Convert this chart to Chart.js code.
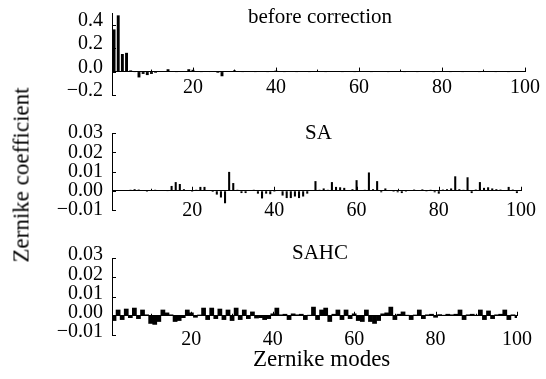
<!DOCTYPE html>
<html>
<head>
<meta charset="utf-8">
<script src="https://cdn.jsdelivr.net/npm/chart.js@4.4.1/dist/chart.umd.min.js"></script>
<style>
  body { margin: 0; background: #fff; width: 546px; height: 379px; position: relative; overflow: hidden;
         font-family: "Liberation Serif", "DejaVu Serif", serif; color: #000; }
  canvas { position: absolute; left: 0; }
  .lbl { position: absolute; white-space: nowrap; line-height: 1; font-size: 21px; }
  .ytitle { position: absolute; white-space: nowrap; line-height: 1; font-size: 23px;
            left: 21px; top: 175px; transform: translate(-50%, -50%) rotate(-90deg); }
</style>
</head>
<body>
<canvas id="pBefore" width="546" height="112" style="top:0"></canvas>
<canvas id="pSA" width="546" height="115" style="top:115px"></canvas>
<canvas id="pSAHC" width="546" height="120" style="top:240px"></canvas>

<div class="lbl" style="left:248px;top:6px">before correction</div>
<div class="lbl" style="left:305px;top:122px">SA</div>
<div class="lbl" style="left:292px;top:242px">SAHC</div>
<div class="lbl" style="left:253px;top:347px;font-size:23px">Zernike modes</div>
<div class="ytitle">Zernike coefficient</div>

<script>
// ── Data (Zernike modes 1..100) ───────────────────────────────
const modes = Array.from({ length: 100 }, (_, i) => i + 1);

const beforeValues = [
  0.36, 0.48, 0.15, 0.16, 0.01, -0.005, -0.05, -0.02, -0.03, -0.02,
  -0.01, 0.005, 0.004, 0.02, 0.005, -0.005, 0.003, 0.005, 0.02, 0.015,
  0.005, -0.005, 0.003, -0.004, 0.003, -0.01, -0.04, 0.003, 0.003, 0.01,
  0.002, -0.003, 0.002, 0.003, -0.002, 0.002, 0.003, -0.002, 0.002, 0.008,
  0.002, -0.002, 0.003, 0.002, -0.003, 0.002, 0.001, -0.002, 0.002, 0.004,
  0.002, -0.002, 0.002, 0.001, 0.003, -0.002, 0.002, 0.001, -0.001, 0.004,
  0.002, 0.001, -0.002, 0.002, 0.001, 0.003, -0.001, 0.002, 0.001, 0.004,
  -0.001, 0.002, 0.001, -0.002, 0.002, 0.001, 0.002, -0.001, 0.001, 0.004,
  0.001, -0.001, 0.002, 0.001, -0.001, 0.002, 0.001, 0.001, -0.001, 0.004,
  0.001, 0.002, -0.001, 0.001, 0.002, -0.001, 0.001, 0.002, 0.001, 0.004,
];

const saValues = [
  0, 0, 0.0002, 0.0002, 0.0005, 0.0008, 0.0006, 0.0003, -0.0005, 0.0004,
  0.0005, 0.0004, 0.0003, -0.0003, 0.0025, 0.0045, 0.0035, 0.0008, 0.0002, -0.0005,
  0.0005, 0.002, 0.002, 0.0003, -0.0006, -0.002, -0.0035, -0.0065, 0.0098, 0.004,
  0.0005, -0.0012, -0.0012, 0.0003, 0.0005, -0.0015, -0.004, -0.0015, -0.0018, -0.0005,
  0.0004, -0.0025, -0.0038, -0.0038, -0.003, -0.0038, -0.003, -0.0015, 0.0003, 0.005,
  0.0005, 0.0012, 0.0005, 0.0045, 0.002, 0.0018, 0.0015, 0.0003, 0.0008, 0.0055,
  0.0003, 0.0005, 0.0095, 0.0008, 0.005, -0.0008, 0.0012, 0.0004, -0.0005, -0.0008,
  -0.0012, -0.0005, 0.0004, 0.0006, 0.0003, 0.0007, -0.0004, 0.0005, -0.0008, -0.0015,
  0.0006, 0.0008, 0.0012, 0.0075, 0.0008, 0.0005, 0.007, -0.0012, 0.0006, 0.0045,
  0.0015, 0.0018, 0.0012, 0.0008, 0.0006, 0.0004, 0.002, 0.0006, -0.0012, 0,
];

const sahcValues = [
  -0.0025, 0.003, -0.002, 0.0035, -0.001, 0.004, -0.0015, 0.003, 0.0005, -0.004,
  -0.0045, -0.003, 0.003, 0.0015, 0.0005, -0.003, -0.0025, -0.001, 0.003, 0.0015,
  -0.0008, 0.0004, 0.004, -0.002, 0.004, -0.0015, 0.0035, -0.002, 0.003, -0.0025,
  0.004, -0.002, 0.003, -0.0015, 0.002, -0.0012, -0.001, -0.002, -0.0015, 0.001,
  0.004, 0.0005, 0.0008, -0.002, 0.001, 0.0005, 0.0008, -0.002, 0.0003, 0.0045,
  -0.002, 0.003, 0.004, -0.003, 0.0008, 0.003, -0.002, 0.003, -0.0015, 0.001,
  -0.0025, -0.003, 0.003, -0.003, -0.004, -0.0025, 0.001, 0.0015, 0.0045, -0.002,
  0.0008, 0.002, 0.0003, -0.002, 0.0004, 0.003, -0.0015, 0.0005, 0.0008, -0.0008,
  0.0006, 0.0003, 0.0008, 0.0005, 0.0008, 0.003, -0.002, 0.0005, 0.0008, 0.0003,
  0.003, -0.002, 0.0025, -0.0015, 0.0005, 0.0008, 0.003, -0.002, 0.0005, -0.001,
];

const xTickValues = [20, 40, 60, 80, 100];
const xMinorValues = [10, 30, 50, 70, 90];
const beforeTicks = [-0.2, 0, 0.2, 0.4];
const smallTicks = [-0.01, 0, 0.01, 0.02, 0.03];

const tickFont = { family: '"Liberation Serif", serif', size: 20, lineHeight: 1 };

function fmt(v, digits) {
  const s = Math.abs(v).toFixed(digits);
  return (v < -1e-9 ? '\u2212' : '') + s;
}

// ── Inward tick marks (the reference draws them inside the frame) ──
const inwardTicks = {
  id: 'inwardTicks',
  afterDraw(chart) {
    const { ctx, scales: { x, y } } = chart;
    const zeroY = y.getPixelForValue(0);
    ctx.save();
    ctx.strokeStyle = '#000';
    ctx.lineWidth = 1;
    ctx.beginPath();
    y.ticks.forEach(t => {
      const py = Math.round(y.getPixelForValue(t.value)) + 0.5;
      ctx.moveTo(x.left, py); ctx.lineTo(x.left + 4, py);
    });
    xTickValues.forEach(v => {
      const px = Math.round(x.getPixelForValue(v)) + 0.5;
      ctx.moveTo(px, zeroY); ctx.lineTo(px, zeroY - 4);
    });
    xMinorValues.forEach(v => {
      const px = Math.round(x.getPixelForValue(v)) + 0.5;
      ctx.moveTo(px, zeroY); ctx.lineTo(px, zeroY - 2);
    });
    ctx.stroke();
    ctx.restore();
  },
};

// ── Panel builder ─────────────────────────────────────────────
function renderPanel(canvasId, values, cfg) {
  const ctx = document.getElementById(canvasId);
  return new Chart(ctx, {
    type: 'bar',
    data: {
      datasets: [{
        data: values.map((v, i) => ({ x: modes[i], y: v })),
        backgroundColor: '#000',
        borderWidth: 0,
        barPercentage: cfg.barPct,
        categoryPercentage: 1,
      }],
    },
    options: {
      responsive: false,
      animation: false,
      events: [],
      layout: { padding: { left: 0, right: 21, top: cfg.padTop, bottom: cfg.padBottom } },
      plugins: { legend: { display: false }, tooltip: { enabled: false } },
      scales: {
        x: {
          type: 'linear',
          min: 0.5,
          max: 100,
          offset: false,
          position: { y: 0 },
          afterBuildTicks: s => { s.ticks = xTickValues.map(v => ({ value: v })); },
          grid: { drawOnChartArea: false, drawTicks: false, offset: false },
          border: { display: true, color: '#000', width: 1 },
          ticks: { color: '#000', font: tickFont, padding: cfg.xPad, maxRotation: 0, autoSkip: false,
                   callback: v => String(v) },
        },
        y: {
          min: cfg.yMin,
          max: cfg.yMax,
          afterBuildTicks: s => { s.ticks = cfg.yTicks.map(v => ({ value: v })); },
          afterFit: s => { s.width = 112; s.paddingTop = 0; s.paddingBottom = 0; },
          grid: { drawOnChartArea: false, drawTicks: false },
          border: { display: true, color: '#000', width: 1 },
          ticks: { color: '#000', font: tickFont, padding: 9, labelOffset: cfg.yOffset, autoSkip: false,
                   callback: v => fmt(v, cfg.digits) },
        },
      },
    },
    plugins: [inwardTicks],
  });
}

renderPanel('pBefore', beforeValues, {
  yMin: -0.2, yMax: 0.5, yTicks: beforeTicks, digits: 1, yOffset: -4,
  padTop: 13, padBottom: 17, xPad: 6, barPct: 0.7,
});
renderPanel('pSA', saValues, {
  yMin: -0.01, yMax: 0.03, yTicks: smallTicks, digits: 2, yOffset: 0,
  padTop: 18, padBottom: 20, xPad: 10, barPct: 0.5,
});
renderPanel('pSAHC', sahcValues, {
  yMin: -0.01, yMax: 0.03, yTicks: smallTicks, digits: 2, yOffset: -3,
  padTop: 18, padBottom: 25, xPad: 14, barPct: 1,
});
</script>
</body>
</html>
